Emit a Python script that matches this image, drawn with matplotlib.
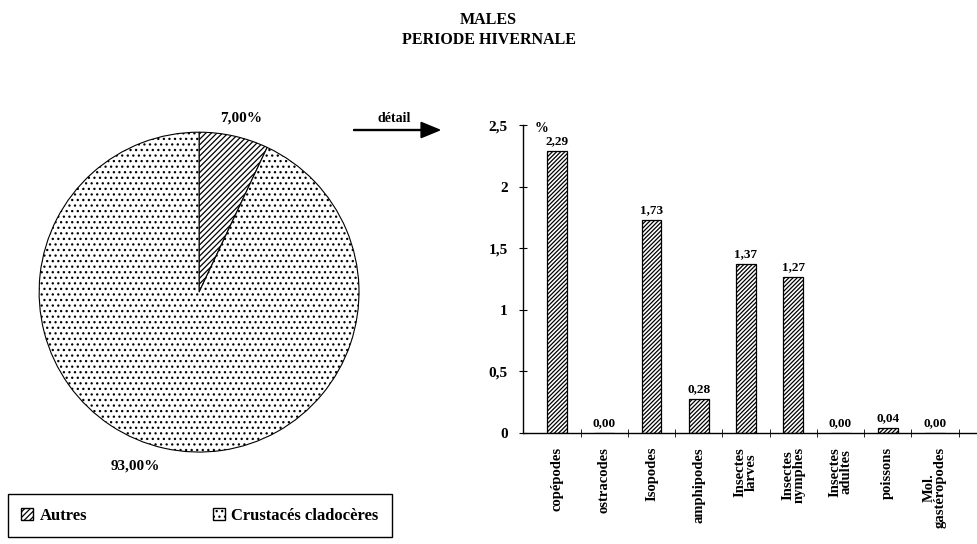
import matplotlib
matplotlib.use("Agg")
import matplotlib.pyplot as plt
from matplotlib.patches import Patch
import numpy as np

plt.rcParams['font.family'] = ['Liberation Serif', 'DejaVu Serif']
plt.rcParams['font.weight'] = 'bold'
plt.rcParams['hatch.linewidth'] = 0.9

# repartition globale
pie_labels = ['Autres', 'Crustacés cladocères']
pie_values = [7.00, 93.00]
pie_texts = ['7,00%', '93,00%']

# detail de la part "Autres"
categories = ['copépodes', 'ostracodes', 'Isopodes', 'amphipodes',
              'Insectes\nlarves', 'Insectes\nnymphes', 'Insectes\nadultes',
              'poissons', 'Mol.\ngastéropodes']
values = [2.29, 0.00, 1.73, 0.28, 1.37, 1.27, 0.00, 0.04, 0.00]
yticks = [0, 0.5, 1, 1.5, 2, 2.5]
ytick_labels = ['0', '0,5', '1', '1,5', '2', '2,5']

fig = plt.figure(figsize=(9.77, 5.44), dpi=100)

fig.text(0.5, 0.978, 'MALES', ha='center', va='top', fontsize=11.5, fontweight='bold')
fig.text(0.5, 0.942, 'PERIODE HIVERNALE', ha='center', va='top', fontsize=11.5, fontweight='bold')

# camembert
axp = fig.add_axes([0.040, 0.169, 0.3275, 0.588])
wedges, _ = axp.pie(pie_values, startangle=90, counterclock=False,
                    colors=['white', 'white'],
                    wedgeprops=dict(edgecolor='black', linewidth=0.8))
wedges[0].set_hatch('//////')
wedges[1].set_hatch('...')
axp.set_xlim(-1, 1)
axp.set_ylim(-1, 1)
axp.set_aspect('equal')
axp.text(0.26, 1.09, pie_texts[0], ha='center', va='center', fontsize=11)
axp.text(-0.40, -1.09, pie_texts[1], ha='center', va='center', fontsize=11)

# fleche "detail"
fig.text(0.386, 0.782, 'détail', ha='left', va='center', fontsize=10)
fig.add_artist(matplotlib.patches.FancyArrow(
    0.362, 0.761, 0.088, 0, width=0.0018, head_width=0.028, head_length=0.019,
    length_includes_head=True, color='black', transform=fig.transFigure))

# histogramme
axb = fig.add_axes([0.5353, 0.204, 0.4647, 0.566])
x = np.arange(len(categories))
bars = axb.bar(x, values, width=0.42, color='white', edgecolor='black',
               linewidth=0.9, hatch='////////')
for xi, v in zip(x, values):
    axb.text(xi, v + 0.03, f'{v:.2f}'.replace('.', ','), ha='center', va='bottom',
             fontsize=9.5)
axb.set_xlim(-0.72, 8.89)
axb.set_ylim(0, 2.5)
axb.set_yticks(yticks)
axb.set_yticklabels(ytick_labels, fontsize=11)
axb.set_xticks(x)
axb.set_xticklabels(categories, rotation=90, va='top', ha='center',
                    fontsize=10.5, linespacing=0.8)
axb.set_xticks(x + 0.5, minor=True)
axb.tick_params(axis='x', which='major', length=0, pad=10)
axb.tick_params(axis='x', which='minor', length=6, direction='inout')
axb.tick_params(axis='y', length=6, direction='inout', pad=8)
axb.spines['top'].set_visible(False)
axb.spines['right'].set_visible(False)
axb.spines['left'].set_linewidth(1.0)
axb.spines['bottom'].set_linewidth(1.0)
axb.text(-0.32, 2.47, '%', ha='center', va='center', fontsize=10)

# legende
handles = [Patch(facecolor='white', edgecolor='black', hatch='//////'),
           Patch(facecolor='white', edgecolor='black', hatch='...')]
leg = fig.legend(handles, pie_labels, loc='lower left',
                 bbox_to_anchor=(8 / 977, 1 - 537 / 544, 384 / 977, 44 / 544),
                 mode='expand', ncol=2, fancybox=False, edgecolor='black',
                 handlelength=0.7, handleheight=0.7, handletextpad=0.4,
                 borderpad=0.8, fontsize=12, framealpha=1, borderaxespad=0)
leg.get_frame().set_linewidth(1.0)

fig.savefig('out.png', dpi=100)
